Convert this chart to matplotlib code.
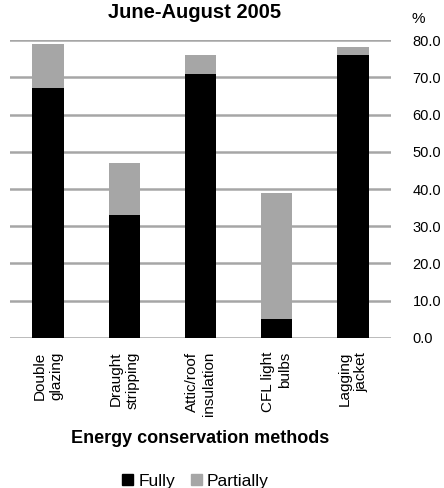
import matplotlib.pyplot as plt
from matplotlib.patches import Patch

plt.rcParams['font.family'] = ['Liberation Sans', 'DejaVu Sans']

# Share of households using each method, June-August 2005
methods = ['Double\nglazing', 'Draught\nstripping', 'Attic/roof\ninsulation',
           'CFL light\nbulbs', 'Lagging\njacket']
fully = [67, 33, 71, 5, 76]
partially = [12, 14, 5, 34, 2]

fig = plt.figure(figsize=(4.44, 4.88), dpi=100)
ax = fig.add_axes([0.0225, 0.3074, 0.8581, 0.6106])

x = range(len(methods))
ax.bar(x, fully, width=0.41, color='black', zorder=3)
ax.bar(x, partially, width=0.41, bottom=fully, color='#a6a6a6', zorder=3)

ax.set_xlim(-0.5, len(methods) - 0.5)
ax.set_ylim(0, 80)
ax.set_yticks(range(0, 81, 10))
ax.set_yticklabels([f'{v:.1f}' for v in range(0, 81, 10)])
ax.yaxis.tick_right()
ax.grid(axis='y', color='#a6a6a6', linewidth=1.8, zorder=0)
for s in ax.spines.values():
    s.set_visible(False)
ax.tick_params(axis='y', length=0, pad=15.5, labelsize=10.5)
ax.tick_params(axis='x', length=0, pad=10, labelsize=11)
ax.set_xticks(list(x))
ax.set_xticklabels(methods, rotation=90, ha='center', va='top',
                   multialignment='right', linespacing=1.25)

fig.text(0.926, 0.953, '%', fontsize=11, ha='left', va='baseline')
fig.text(0.438, 0.963, 'June-August 2005', fontsize=14.5, fontweight='bold',
         ha='center', va='baseline')
fig.text(0.451, 0.092, 'Energy conservation methods', fontsize=13,
         fontweight='bold', ha='center', va='baseline')

handles = [Patch(color='black'), Patch(color='#a6a6a6')]
fig.legend(handles, ['Fully', 'Partially'], loc='center',
           bbox_to_anchor=(0.44, 0.014), ncol=2, frameon=False, fontsize=12.5,
           handlelength=0.65, handleheight=0.65, handletextpad=0.3,
           columnspacing=0.9)

fig.savefig('out.png', dpi=100)
